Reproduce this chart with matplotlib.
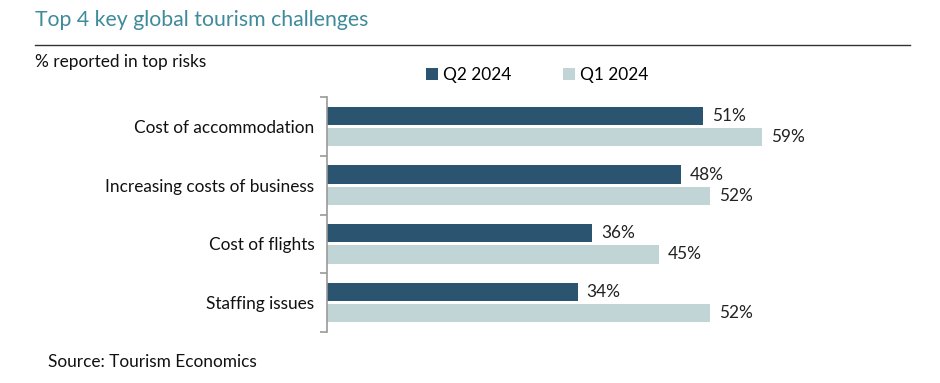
import matplotlib
matplotlib.use('Agg')
import matplotlib.pyplot as plt
import numpy as np

categories = ['Cost of accommodation', 'Increasing costs of business', 'Cost of flights', 'Staffing issues']
q2_2024 = [51, 48, 36, 34]
q1_2024 = [59, 52, 45, 52]
series_names = ['Q2 2024', 'Q1 2024']

DARK = '#2a5470'
LIGHT = '#c1d5d6'
FS = 12.4
plt.rcParams['font.family'] = ['Lato', 'DejaVu Sans']

fig = plt.figure(figsize=(9.4, 3.83), dpi=100)
W, H = 940, 383
ax = fig.add_axes([327 / W, 1 - 332 / H, (900 - 327) / W, (332 - 97) / H])

y = np.arange(len(categories))
h = 0.31
gap = 0.025
ax.barh(y - h / 2 - gap, q2_2024, height=h, color=DARK, label=series_names[0])
ax.barh(y + h / 2 + gap, q1_2024, height=h, color=LIGHT, label=series_names[1])

for yi, v in zip(y, q2_2024):
    ax.text(v + 1.2, yi - h / 2 - gap, f'{v}%', va='center', ha='left', fontsize=FS, color='#222222')
for yi, v in zip(y, q1_2024):
    ax.text(v + 1.2, yi + h / 2 + gap, f'{v}%', va='center', ha='left', fontsize=FS, color='#222222')

ax.set_xlim(0, 573 / 7.37)
ax.set_ylim(len(categories) - 0.5, -0.5)
ax.set_yticks(y)
ax.set_yticklabels(categories, fontsize=FS, color='#111111')
ax.set_yticks(np.arange(-0.5, len(categories)), minor=True)
ax.tick_params(axis='y', which='major', length=0, pad=9)
ax.tick_params(axis='y', which='minor', length=5, color='#999999', width=1.2)
ax.set_xticks([])
for s in ['top', 'right', 'bottom']:
    ax.spines[s].set_visible(False)
ax.spines['left'].set_color('#999999')
ax.spines['left'].set_linewidth(1.2)

# header
fig.text(35 / W, 1 - 20 / H, 'Top 4 key global tourism challenges', fontsize=15.3,
         color='#3f8b9b', va='center', ha='left')
fig.add_artist(plt.Line2D([35 / W, 910 / W], [1 - 45 / H, 1 - 45 / H], color='#333333', lw=1))
fig.text(35 / W, 1 - 62 / H, '% reported in top risks', fontsize=FS, color='#111111', va='center', ha='left')

ax.legend(loc='center left', bbox_to_anchor=(410 / W, 1 - 75 / H), bbox_transform=fig.transFigure,
          ncol=2, frameon=False, fontsize=FS, handlelength=0.7, handleheight=0.7,
          handletextpad=0.3, columnspacing=3.0)

fig.text(48 / W, 1 - 362 / H, 'Source: Tourism Economics', fontsize=FS, color='#111111', va='center', ha='left')

fig.savefig('out.png', dpi=100)
